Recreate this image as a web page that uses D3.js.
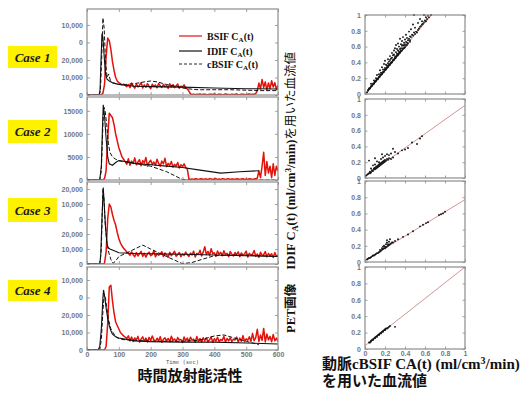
<!DOCTYPE html>
<html>
<head>
<meta charset="utf-8">
<script src="https://cdn.jsdelivr.net/npm/d3@7"></script>
<style>
  body { margin: 0; background: #fff; }
  svg { display: block; }
</style>
</head>
<body>
<script>
// ---- data ----
const caseNames = ["Case 1", "Case 2", "Case 3", "Case 4"];
const timeGrid = d3.range(0, 601, 5); // BSIF sampled every 5 s

// BSIF C_A(t), counts in thousands, one value per timeGrid step
const bsif1 = [0,0,0,0,0,0,0,0,0,
  0.2,1,6,22,32.5,31,26,19,14,10,8,7,6.5,5.8,6.2,5.5,4.8,
  5.9,4.2,6.8,5.1,3.9,6.3,4.6,5.5,7.1,4.0,5.8,4.4,6.5,5.0,3.6,6.1,4.9,5.7,4.1,6.6,
  5.2,4.3,6.0,4.7,5.4,3.8,6.4,4.5,5.9,4.2,5.3,6.2,3.9,5.0,4.6,5.8,4.1,3.5,2.2,
  0.6,0.3,0.5,0.2,0.4,0.3,0.6,0.2,0.4,0.5,0.3,0.2,0.5,0.4,0.3,0.6,0.2,0.3,0.5,0.4,
  0.2,0.3,0.6,0.4,0.3,0.2,0.5,0.3,0.4,0.6,0.2,0.3,0.5,0.4,0.3,0.2,0.4,0.6,0.3,0.5,0.4,0.8,2.5,
  6.8,3.5,8.9,4.2,7.5,2.8,6.9,3.6,8.2,4.5,7.0,3.2,5.5];
const bsif2 = [0,0,0,0,0,0,0,0,0,0,0,
  0.3,2,9,14.5,14,13.5,12,10,8.5,7,6,5,4.5,4,
  3.4,4.6,3.2,4.1,3.6,4.8,3.3,3.9,4.4,3.1,4.2,3.7,4.9,3.0,3.8,4.3,3.4,3.9,3.2,4.5,
  3.6,3.0,4.1,3.5,4.7,2.9,3.6,3.2,4.0,2.8,3.4,3.0,3.8,2.6,3.3,2.9,3.5,2.7,2.4,
  0.3,0.1,0.2,0.1,0.3,0.2,0.1,0.2,0.3,0.1,0.2,0.2,0.1,0.3,0.2,0.1,0.2,0.3,0.1,0.2,
  0.1,0.3,0.2,0.1,0.2,0.3,0.1,0.2,0.2,0.1,0.3,0.2,0.1,0.2,0.3,0.1,0.2,0.1,0.3,0.2,0.1,0.2,0.3,0.4,
  2,0.5,3,6,1,4,1.5,3,0.5,3.5,1,3,2];
const bsif3 = [0,0,0,0,0,0,0,0,0,0,0,
  0.5,8,30,40,38,33,29,26,21,17,14,12,10.5,9.3,8,7.2,
  5.8,8.1,6.2,4.9,7.6,5.3,6.9,8.4,5.1,7.2,4.6,6.8,7.9,5.5,6.3,8.8,4.8,7.0,5.9,6.6,
  8.2,5.0,7.4,6.1,4.5,7.8,5.6,6.9,8.5,5.2,6.4,7.7,4.9,6.8,5.7,8.0,6.2,5.1,7.3,6.0,
  8.6,4.7,7.1,6.5,9.2,5.4,7.9,11.5,6.3,8.4,5.8,10.2,6.9,7.5,5.1,8.7,6.4,7.8,5.5,8.9,
  6.1,7.2,4.8,8.3,6.6,5.3,7.7,6.0,8.1,4.9,7.4,5.7,6.8,8.6,4.6,7.1,5.9,6.5,9.0,5.2,
  6.7,4.4,7.9,5.6,6.2,8.3,4.8,7.0,5.5,6.8,4.3,7.6,5.1,6.0];
const bsif4 = [0,0,0,0,0,0,0,0,0,0,0,0,
  2,15,36,37,28,21,16,14,12,10,9,8,7.4,
  6.5,8.1,5.2,7.4,4.8,6.9,5.6,7.8,4.5,6.3,7.5,5.0,6.8,4.6,7.2,5.4,8.0,5.8,4.9,6.7,
  5.3,7.6,4.4,6.1,7.0,5.1,6.6,4.7,7.9,5.5,6.3,4.9,7.1,5.7,6.0,4.3,7.4,5.2,6.8,4.8,
  7.3,5.6,6.2,4.5,7.7,5.0,6.5,4.6,7.0,5.3,6.9,4.7,5.8,7.5,4.4,6.4,5.1,7.2,4.9,6.0,
  5.5,7.8,4.6,6.6,5.2,7.0,4.8,6.2,5.7,7.4,4.5,6.8,5.0,8.2,4.7,6.4,5.6,7.6,4.9,9.5,
  5.3,7.1,11.8,4.8,8.6,5.5,12.3,4.6,9.1,5.8,7.8,4.7,8.9,5.2,6.8,4.9];

// IDIF C_A(t): [time s, thousands]
const idif1 = [[0,0],[38,0],[41,3],[44,20],[47,35],[50,33],[54,22],[58,12],[63,9],[70,8],[80,7],[90,6.5],[100,6],[150,5],[200,4.8],[300,4.5],[400,4],[500,3.6],[600,3.4]];
const idif2 = [[0,0],[40,0],[45,3],[48,10],[51,16.3],[55,14],[60,9],[65,5],[70,3.5],[80,3.2],[90,3.8],[100,4.2],[120,4],[150,3.6],[200,3.3],[250,3.0],[300,2.7],[350,2.2],[420,1.5],[480,1.8],[540,2.0]];
const idif3 = [[0,0],[40,0],[43,5],[47,30],[51,51],[54,40],[58,25],[62,15],[66,11],[72,10],[80,9.3],[100,7.5],[150,7],[200,6.8],[300,6.5],[400,6],[500,5.5],[600,5]];
const idif4 = [[0,0],[35,0],[40,2],[45,12],[50,30],[52,34.3],[56,30],[60,24],[65,18],[70,14],[75,11],[80,9],[90,7.5],[100,6.9],[150,5.2],[200,4.8],[300,4.5],[400,4.5],[500,4],[550,3.7],[600,3.4]];

// cBSIF C_A(t): [time s, thousands]
const cbsif1 = [[0,0],[38,0],[42,2],[46,20],[50,44],[54,38],[58,20],[63,10],[68,12],[74,8],[80,7],[90,6.5],[100,6],[120,6],[150,6.5],[180,7.5],[200,8],[220,7.5],[250,6],[280,5],[300,4],[320,3.5],[350,3],[450,3],[550,2.5],[600,2.5]];
const cbsif2 = [[0,0],[40,0],[45,2],[50,12],[53,15.8],[57,15],[62,12],[67,8],[72,6],[80,5],[90,4.5],[100,4.2],[150,3.6],[200,3],[250,1.8],[300,0.1],[350,0],[600,0]];
const cbsif3 = [[0,0],[40,0],[45,10],[50,50],[53,45],[57,28],[62,15],[68,8],[75,3],[82,0.5],[90,2],[100,5],[130,8],[175,12.6],[200,10],[250,5],[300,0.2],[330,1],[360,3],[400,5.5],[450,6],[500,6],[600,5]];
const cbsif4 = [[0,0],[40,0],[45,6],[50,22],[54,32],[58,30],[62,24],[68,17],[75,12],[82,10],[88,8],[95,7],[110,6],[150,5.5],[200,5],[300,5],[350,5.5],[400,8],[430,8.6],[460,7],[500,5],[540,3]];

const yTickValues = [[0,10,20,30,40],[0,5,10,15],[0,10,20,30,40,50],[0,10,20,30,40]];
const yTickLabels = [
  ["0","10,000","20,000","0","10,000"],
  ["0","5000","10000","15000"],
  ["0","10,000","20,000","0","10,000","20,000"],
  ["0","10,000","20,000","0","10,000"]
];
const timeTicks = [0,100,200,300,400,500,600];

// blood flow scatter: [cBSIF, IDIF] in ml/cm3/min
const flow1 = [[0.02,0.02],[0.03,0.04],[0.03,0.05],[0.04,0.06],[0.05,0.07],[0.05,0.08],[0.06,0.09],[0.07,0.10],[0.07,0.11],[0.08,0.12],[0.09,0.13],[0.09,0.14],[0.10,0.15],[0.11,0.16],[0.11,0.17],[0.12,0.18],[0.13,0.19],[0.13,0.20],[0.14,0.21],[0.15,0.22],[0.15,0.23],[0.16,0.24],[0.17,0.25],[0.17,0.26],[0.18,0.27],[0.19,0.28],[0.19,0.29],[0.20,0.30],[0.21,0.31],[0.21,0.32],[0.22,0.33],[0.23,0.34],[0.23,0.35],[0.24,0.36],[0.25,0.37],[0.25,0.38],[0.26,0.39],[0.27,0.40],[0.27,0.41],[0.28,0.42],[0.29,0.43],[0.29,0.44],[0.30,0.45],[0.31,0.46],[0.31,0.47],[0.32,0.48],[0.33,0.49],[0.33,0.50],[0.34,0.51],[0.35,0.52],[0.35,0.53],[0.36,0.54],[0.37,0.55],[0.38,0.57],[0.39,0.58],[0.40,0.59],[0.41,0.61],[0.42,0.62],[0.43,0.64],[0.45,0.66],
  [0.04,0.07],[0.06,0.10],[0.08,0.13],[0.10,0.16],[0.12,0.19],[0.14,0.22],[0.16,0.25],[0.18,0.28],[0.20,0.31],[0.22,0.34],[0.24,0.37],[0.26,0.40],[0.28,0.43],[0.30,0.46],[0.32,0.49],[0.34,0.52],[0.36,0.55],[0.38,0.58],
  [0.06,0.13],[0.09,0.17],[0.11,0.20],[0.12,0.24],[0.14,0.25],[0.15,0.30],[0.16,0.27],[0.17,0.34],[0.18,0.31],[0.19,0.38],[0.20,0.33],[0.20,0.42],[0.21,0.37],[0.22,0.36],[0.23,0.44],[0.23,0.39],[0.24,0.41],[0.25,0.48],[0.25,0.43],[0.26,0.45],[0.27,0.52],[0.27,0.46],[0.28,0.49],[0.29,0.55],[0.29,0.50],[0.30,0.48],[0.30,0.58],[0.31,0.53],[0.31,0.62],[0.32,0.51],[0.32,0.57],[0.33,0.55],[0.33,0.64],[0.34,0.54],[0.34,0.60],[0.35,0.57],[0.35,0.70],[0.36,0.63],[0.36,0.58],[0.37,0.61],[0.37,0.67],[0.38,0.62],[0.38,0.72],[0.39,0.65],[0.39,0.61],[0.40,0.69],[0.40,0.63],[0.41,0.66],[0.41,0.75],[0.42,0.65],[0.42,0.71],[0.43,0.68],[0.44,0.79],[0.44,0.70],[0.45,0.73],[0.45,0.68],[0.46,0.82],[0.46,0.72],[0.47,0.75],[0.48,0.88],[0.48,0.74],[0.49,1.0],[0.49,0.78],[0.50,0.76],[0.50,0.84],[0.51,0.79],[0.52,0.78],[0.53,0.90],[0.53,0.81],[0.54,0.83],[0.55,0.95],[0.55,0.85],[0.56,0.86],[0.57,0.88],[0.57,0.92],[0.58,0.89],[0.59,1.0],[0.59,0.91],[0.60,0.93],[0.61,0.97],[0.61,0.92],[0.62,0.95],[0.63,0.99],[0.64,0.97],[0.66,1.0]];
const flow2 = [[0.01,0.03],[0.02,0.04],[0.03,0.05],[0.04,0.06],[0.05,0.06],[0.05,0.08],[0.06,0.07],[0.07,0.09],[0.07,0.10],[0.08,0.09],[0.09,0.11],[0.09,0.12],[0.10,0.11],[0.10,0.13],[0.11,0.12],[0.11,0.14],[0.12,0.13],[0.12,0.15],[0.13,0.14],[0.13,0.16],[0.14,0.15],[0.14,0.17],[0.15,0.16],[0.15,0.18],[0.16,0.17],[0.16,0.19],[0.17,0.18],[0.17,0.20],[0.18,0.19],[0.18,0.21],[0.19,0.20],[0.19,0.22],[0.20,0.21],[0.20,0.23],[0.21,0.22],[0.22,0.24],[0.23,0.23],[0.24,0.25],[0.26,0.24],[0.28,0.26],[0.06,0.12],[0.08,0.16],[0.10,0.17],[0.12,0.21],[0.14,0.20],[0.16,0.24],[0.18,0.26],[0.20,0.28],[0.22,0.30],[0.24,0.29],[0.26,0.31],[0.10,0.25],[0.17,0.30],[0.30,0.33],[0.33,0.31],[0.37,0.35],[0.40,0.36],[0.43,0.38],[0.47,0.45],[0.52,0.43],[0.55,0.50],[0.57,0.53],[0.28,0.37],[0.04,0.22]];
const flow3 = [[0.02,0.03],[0.03,0.04],[0.04,0.05],[0.05,0.05],[0.06,0.06],[0.07,0.07],[0.08,0.08],[0.09,0.08],[0.10,0.09],[0.11,0.10],[0.12,0.11],[0.13,0.11],[0.14,0.12],[0.15,0.13],[0.16,0.14],[0.17,0.15],[0.18,0.16],[0.19,0.17],[0.20,0.17],[0.21,0.18],[0.22,0.19],[0.23,0.20],[0.24,0.21],[0.25,0.22],[0.19,0.20],[0.21,0.22],[0.22,0.24],[0.23,0.22],[0.24,0.25],[0.20,0.19],[0.18,0.19],[0.26,0.23],[0.27,0.24],[0.22,0.27],[0.25,0.28],[0.28,0.24],[0.30,0.26],[0.33,0.28],[0.38,0.31],[0.43,0.34],[0.48,0.38],[0.55,0.44],[0.58,0.46],[0.61,0.48],[0.63,0.49],[0.74,0.58],[0.76,0.59],[0.78,0.60],[0.80,0.62],[0.15,0.15],[0.17,0.17]];
const flow4 = [[0.04,0.08],[0.05,0.08],[0.06,0.09],[0.06,0.10],[0.07,0.11],[0.08,0.11],[0.08,0.12],[0.09,0.13],[0.10,0.13],[0.10,0.14],[0.11,0.15],[0.12,0.15],[0.12,0.16],[0.13,0.17],[0.14,0.17],[0.14,0.18],[0.15,0.19],[0.16,0.19],[0.16,0.20],[0.17,0.21],[0.18,0.21],[0.18,0.22],[0.19,0.23],[0.20,0.23],[0.20,0.24],[0.21,0.25],[0.22,0.25],[0.23,0.26],[0.24,0.27],[0.25,0.28],[0.30,0.27]];
const fitIntercept = [0, 0.02, 0.02, 0.04];
const fitSlope = [1.5, 0.9, 0.75, 0.96];
const flowTicks = [0, 0.2, 0.4, 0.6, 0.8, 1];
const flowTickLabels = ["0", "0.2", "0.4", "0.6", "0.8", "1"];

// ---- drawing ----
const width = 522, height = 397;
const serif = "'Liberation Serif','Times New Roman',serif";
const jp = "'Noto Sans CJK JP','Noto Sans',sans-serif";
const small = "'Liberation Sans',Arial,sans-serif";

const svg = d3.select("body").append("svg")
  .attr("width", width).attr("height", height)
  .style("background", "#fff");

const bsif = [bsif1, bsif2, bsif3, bsif4];
const idif = [idif1, idif2, idif3, idif4];
const cbsif = [cbsif1, cbsif2, cbsif3, cbsif4];
const flows = [flow1, flow2, flow3, flow4];

const timePanels = [
  { top: 9, bottom: 95, yMax: 49.1 },
  { top: 97, bottom: 180, yMax: 18.0 },
  { top: 182, bottom: 264, yMax: 54.7 },
  { top: 267, bottom: 350, yMax: 47.4 }
];
const labelBoxes = [{ y: 46, h: 22 }, { y: 120, h: 23 }, { y: 198, h: 24 }, { y: 280, h: 21 }];
const flowPanels = [
  { top: 15, bottom: 94 },
  { top: 99, bottom: 178 },
  { top: 181, bottom: 262 },
  { top: 267, bottom: 349 }
];

const x = d3.scaleLinear().domain([0, 600]).range([87, 278]);
const frameColor = "#8c8c8c";

function styleAxis(g, labels) {
  g.select(".domain").remove();
  g.selectAll(".tick line").attr("stroke", frameColor).attr("stroke-width", 0.8);
  g.selectAll("text").attr("font-family", small).attr("font-size", 7)
    .attr("font-weight", "bold").attr("fill", "#777");
  if (!labels) g.selectAll("text").remove();
}

timePanels.forEach((p, i) => {
  const y = d3.scaleLinear().domain([0, p.yMax]).range([p.bottom, p.top]);
  const g = svg.append("g");

  g.append("defs").append("clipPath").attr("id", "tclip" + i)
    .append("rect").attr("x", x(0)).attr("y", p.top)
    .attr("width", x(600) - x(0)).attr("height", p.bottom - p.top);

  g.append("g").attr("transform", `translate(${x(0)},0)`)
    .call(d3.axisLeft(y).tickValues(yTickValues[i])
      .tickFormat((d, k) => yTickLabels[i][k]).tickSize(-3).tickPadding(4))
    .call(a => styleAxis(a, true));
  g.append("g").attr("transform", `translate(${x(600)},0)`)
    .call(d3.axisRight(y).tickValues(yTickValues[i]).tickSize(-3))
    .call(a => styleAxis(a, false));
  g.append("g").attr("transform", `translate(0,${p.bottom})`)
    .call(d3.axisBottom(x).tickValues(timeTicks).tickSize(-3).tickPadding(2))
    .call(a => styleAxis(a, i === 3));
  g.append("g").attr("transform", `translate(0,${p.top})`)
    .call(d3.axisTop(x).tickValues(timeTicks).tickSize(-3))
    .call(a => styleAxis(a, false));

  const line = d3.line().x(d => x(d[0])).y(d => y(d[1]));
  const plot = g.append("g").attr("clip-path", `url(#tclip${i})`);

  plot.append("path")
    .attr("d", line(timeGrid.map((t, k) => [t, bsif[i][k]])))
    .attr("fill", "none").attr("stroke", "#e3120b").attr("stroke-width", 1.5)
    .attr("stroke-linejoin", "round");
  plot.append("path").attr("d", line(idif[i]))
    .attr("fill", "none").attr("stroke", "#111").attr("stroke-width", 1.1);
  plot.append("path").attr("d", line(cbsif[i]))
    .attr("fill", "none").attr("stroke", "#111").attr("stroke-width", 1)
    .attr("stroke-dasharray", "4,2");

  g.append("rect").attr("x", x(0)).attr("y", p.top)
    .attr("width", x(600) - x(0)).attr("height", p.bottom - p.top)
    .attr("fill", "none").attr("stroke", frameColor).attr("stroke-width", 1.2);

  // case label
  const b = labelBoxes[i];
  svg.append("rect").attr("x", 8).attr("y", b.y).attr("width", 49).attr("height", b.h)
    .attr("fill", "#fff200");
  svg.append("text").attr("x", 32.5).attr("y", b.y + b.h / 2 + 4.5)
    .attr("text-anchor", "middle").attr("font-family", serif)
    .attr("font-weight", "bold").attr("font-style", "italic").attr("font-size", 13)
    .attr("fill", "#1b1b1b").text(caseNames[i]);
});

// legend in first panel
const legendItems = [
  { name: "BSIF C", color: "#e3120b", dash: null, y: 36 },
  { name: "IDIF C", color: "#111", dash: null, y: 51 },
  { name: "cBSIF C", color: "#111", dash: "3,2", y: 64 }
];
const legend = svg.append("g");
legendItems.forEach(d => {
  legend.append("line").attr("x1", 179).attr("x2", 202).attr("y1", d.y).attr("y2", d.y)
    .attr("stroke", d.color).attr("stroke-width", d.dash ? 0.9 : 1.2)
    .attr("stroke-dasharray", d.dash);
  const t = legend.append("text").attr("x", 207).attr("y", d.y + 3.5)
    .attr("font-family", serif).attr("font-weight", "bold").attr("font-size", 10).attr("fill", "#111");
  t.append("tspan").text(d.name);
  t.append("tspan").attr("font-size", 7).attr("dy", 2).text("A");
  t.append("tspan").attr("dy", -2).text("(t)");
});

svg.append("text").attr("x", x(300)).attr("y", 364).attr("text-anchor", "middle")
  .attr("font-family", "'DejaVu Sans Mono',monospace").attr("font-size", 5.5)
  .attr("fill", "#555").text("Time (sec)");

// scatter panels
const sx = d3.scaleLinear().domain([0, 1]).range([365, 465]);
flowPanels.forEach((p, i) => {
  const sy = d3.scaleLinear().domain([0, 1]).range([p.bottom, p.top]);
  const g = svg.append("g");

  g.append("g").attr("transform", `translate(${sx(0)},0)`)
    .call(d3.axisLeft(sy).tickValues(flowTicks)
      .tickFormat((d, k) => flowTickLabels[k]).tickSize(-2.5).tickPadding(4))
    .call(a => styleAxis(a, true));
  g.append("g").attr("transform", `translate(${sx(1)},0)`)
    .call(d3.axisRight(sy).tickValues(flowTicks).tickSize(-2.5))
    .call(a => styleAxis(a, false));
  g.append("g").attr("transform", `translate(0,${p.bottom})`)
    .call(d3.axisBottom(sx).tickValues(flowTicks)
      .tickFormat((d, k) => flowTickLabels[k]).tickSize(-2.5).tickPadding(2))
    .call(a => styleAxis(a, i === 3));
  g.append("g").attr("transform", `translate(0,${p.top})`)
    .call(d3.axisTop(sx).tickValues(flowTicks).tickSize(-2.5))
    .call(a => styleAxis(a, false));

  const x1 = Math.min(1, (1 - fitIntercept[i]) / fitSlope[i]);
  g.append("line")
    .attr("x1", sx(0)).attr("y1", sy(fitIntercept[i]))
    .attr("x2", sx(x1)).attr("y2", sy(fitIntercept[i] + fitSlope[i] * x1))
    .attr("stroke", "#c97a7a").attr("stroke-width", 0.8);

  g.append("g").selectAll("circle").data(flows[i]).join("circle")
    .attr("cx", d => sx(d[0])).attr("cy", d => sy(d[1])).attr("r", 0.95)
    .attr("fill", "#111");

  g.append("rect").attr("x", sx(0)).attr("y", p.top)
    .attr("width", sx(1) - sx(0)).attr("height", p.bottom - p.top)
    .attr("fill", "none").attr("stroke", frameColor).attr("stroke-width", 1.2);
});

// vertical axis title of the scatter column
const vt = svg.append("text")
  .attr("transform", "translate(295,333) rotate(-90)")
  .attr("font-family", serif).attr("font-weight", "bold").attr("font-size", 12.5).attr("fill", "#111");
vt.append("tspan").text("PET");
vt.append("tspan").attr("font-family", jp).text("画像");
vt.append("tspan").attr("dx", 14).text("IDIF C");
vt.append("tspan").attr("font-size", 8.5).attr("dy", 2.5).text("A");
vt.append("tspan").attr("dy", -2.5).text("(t) (ml/cm");
vt.append("tspan").attr("font-size", 8.5).attr("dy", -4).text("3");
vt.append("tspan").attr("dy", 4).text("/min)");
vt.append("tspan").attr("font-family", jp).attr("font-weight", "normal").text("を用いた血流値");

// bottom captions
svg.append("text").attr("x", 190).attr("y", 381).attr("text-anchor", "middle")
  .attr("font-family", jp).attr("font-weight", "bold").attr("font-size", 15).attr("fill", "#111")
  .text("時間放射能活性");

const cap = svg.append("text").attr("x", 322).attr("y", 369)
  .attr("font-family", serif).attr("font-weight", "bold").attr("font-size", 15).attr("fill", "#111");
cap.append("tspan").attr("font-family", jp).text("動脈");
cap.append("tspan").text("cBSIF CA(t) (ml/cm");
cap.append("tspan").attr("font-size", 10).attr("dy", -5).text("3");
cap.append("tspan").attr("dy", 5).text("/min)");
svg.append("text").attr("x", 322).attr("y", 386)
  .attr("font-family", jp).attr("font-weight", "bold").attr("font-size", 15).attr("fill", "#111")
  .text("を用いた血流値");
</script>
</body>
</html>
